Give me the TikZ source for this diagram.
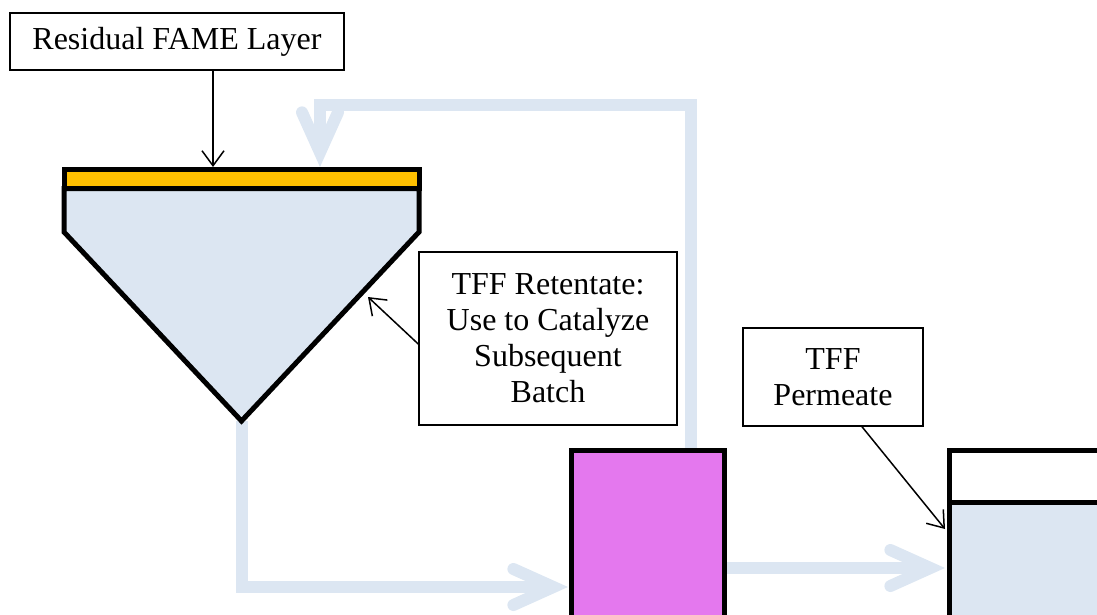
\documentclass[tikz,border=0pt]{standalone}
\usepackage{fontspec}
\setmainfont{Liberation Serif}
\usetikzlibrary{arrows.meta}
\definecolor{flowblue}{RGB}{220,230,242}
\definecolor{fameorange}{RGB}{255,192,0}
\definecolor{pumpmagenta}{RGB}{228,120,238}
\tikzset{
  label box/.style={draw=black, line width=1.5pt, fill=white, align=center,
    inner sep=0pt, font=\fontsize{32}{36}\selectfont},
  callout/.style={draw=black, line width=1.5pt,
    -{Straight Barb[length=15pt,width=22pt]}},
  flow/.style={draw=flowblue, line width=12pt, line join=miter,
    -{Straight Barb[length=40pt,width=36pt,line cap=round,line join=miter]}},
  vessel/.style={draw=black, line width=5pt, line join=miter},
}
\begin{document}
\begin{tikzpicture}[x=1pt, y=-1pt]
  \path[use as bounding box] (0,0) rectangle (1097,615);
  \clip (0,0) rectangle (1097,615);

  % key points of the settling tank and the flow lines
  \coordinate (tankTL) at (64,169.5);
  \coordinate (tankTR) at (419,169.5);
  \coordinate (tankML) at (64,188.5);
  \coordinate (tankMR) at (419,188.5);
  \coordinate (tankSL) at (64,232);
  \coordinate (tankSR) at (419,232);
  \coordinate (tankBottom) at (241.5,421);
  \coordinate (fameTop) at (213,167);
  \coordinate (tankIn) at (320,167);
  \coordinate (loopTop) at (320,105);
  \coordinate (pumpOut) at (691,452);
  \coordinate (pumpIn) at (568,587);
  \coordinate (pumpSide) at (726,568);
  \coordinate (permIn) at (945,568);
  \coordinate (permTip) at (945,529);
  \coordinate (retTip) at (368,297);

  % light blue process flows
  \draw[flow] (pumpOut) |- (loopTop) -- (tankIn);
  \draw[flow] (tankBottom) |- (pumpIn);
  \draw[flow] (pumpSide) -- (permIn);

  % settling tank with FAME layer on top
  \filldraw[vessel, fill=flowblue] (tankML) -- (tankSL) -- (tankBottom)
    -- (tankSR) -- (tankMR) -- cycle;
  \filldraw[vessel, fill=fameorange] (tankTL) rectangle (tankMR);

  % TFF unit
  \node[draw=black, line width=5pt, fill=pumpmagenta, minimum width=153pt,
    minimum height=190pt, inner sep=0pt] (pump) at (647.5,545) {};

  % permeate tank
  \fill[flowblue] (949,502) rectangle (1110,640);
  \draw[vessel] (949,640) -- (949,450) -- (1110,450);
  \draw[vessel] (949,502) -- (1110,502);

  % labels
  \node[label box, minimum width=334pt, minimum height=57pt] (res)
    at (177,41.5) {Residual FAME Layer};
  \node[label box, minimum width=258pt, minimum height=173pt] (ret)
    at (548,338.5) {TFF Retentate:\\Use to Catalyze\\Subsequent\\Batch};
  \node[label box, minimum width=180pt, minimum height=98pt] (perm)
    at (833,377) {TFF\\Permeate};

  % callout arrows
  \draw[callout] (res.south -| fameTop) -- (fameTop);
  \draw[callout] ([yshift=-5.5pt]ret.west) -- (retTip);
  \draw[callout] ([xshift=29pt]perm.south) -- (permTip);
\end{tikzpicture}
\end{document}
